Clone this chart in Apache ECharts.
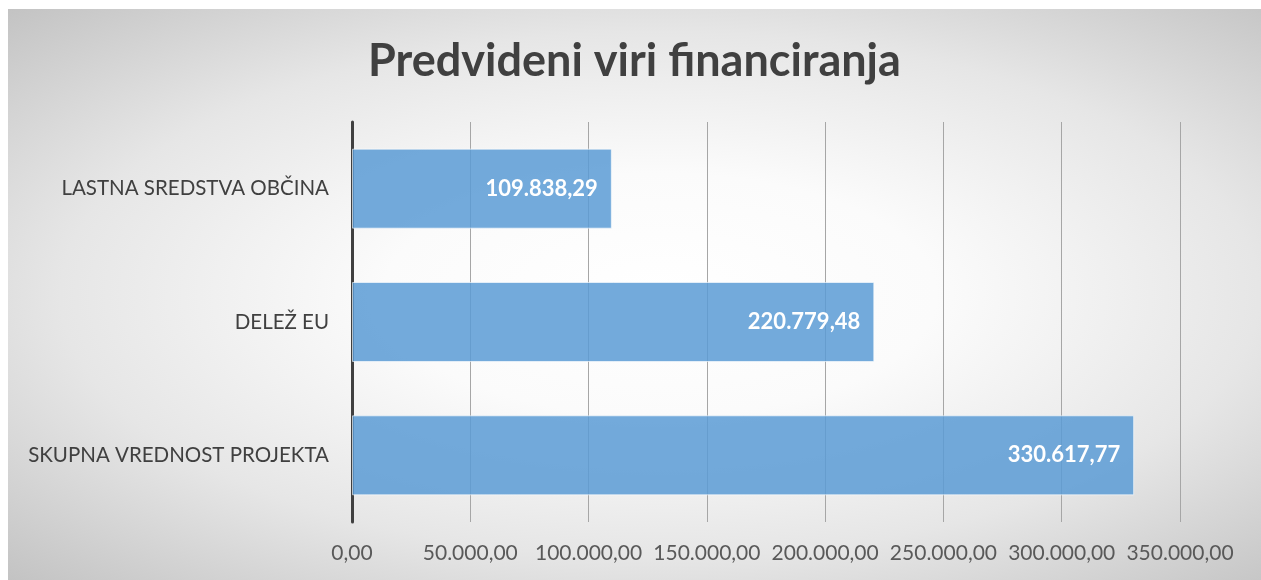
<!DOCTYPE html>
<html>
<head>
<meta charset="utf-8">
<script src="https://cdn.jsdelivr.net/npm/echarts@6/dist/echarts.min.js"></script>
<style>
  html, body { margin: 0; padding: 0; background: #fff; }
  .chart {
    position: absolute; left: 8px; top: 9px; width: 1253px; height: 571px;
    background: radial-gradient(ellipse farthest-corner at 52% 50%, #ffffff 0%, #fbfbfb 30%, #e6e6e6 65%, #c3c3c3 100%);
  }
</style>
</head>
<body>
<div class="chart"></div>
<script>
// podatki
var categories = ["LASTNA SREDSTVA OBČINA", "DELEŽ EU", "SKUPNA VREDNOST PROJEKTA"];
var values = [109838.29, 220779.48, 330617.77];
var axisMax = 350000;
var axisStep = 50000;

// slovenski zapis stevil: 109.838,29
function fmt(v) {
    var parts = Number(v).toFixed(2).split(".");
    var whole = parts[0].replace(/\B(?=(\d{3})+(?!\d))/g, ".");
    return whole + "," + parts[1];
}

var myChart = echarts.init(document.querySelector(".chart"));
var option = {
    backgroundColor: "transparent",
    animation: false,
    title: {
        text: "Predvideni viri financiranja",
        left: "center",
        top: 25,
        textStyle: {
            fontFamily: "Lato",
            fontSize: 45,
            fontWeight: "bold",
            color: "#404040"
        }
    },
    grid: { left: 344, right: 81, top: 113, bottom: 58, containLabel: false },
    xAxis: {
        type: "value",
        min: 0,
        max: axisMax,
        interval: axisStep,
        axisLine: { show: false },
        axisTick: { show: false },
        axisLabel: {
            formatter: fmt,
            margin: 21,
            fontFamily: "Lato",
            fontSize: 21,
            color: "#595959"
        },
        splitLine: { lineStyle: { color: "#a6a6a6", width: 1 } }
    },
    yAxis: {
        type: "category",
        inverse: true,
        data: categories,
        axisLine: { lineStyle: { color: "#404040", width: 3 } },
        axisTick: { show: false },
        axisLabel: {
            margin: 23,
            fontFamily: "Lato",
            fontSize: 20.5,
            color: "#404040"
        }
    },
    series: [{
        type: "bar",
        data: values,
        barWidth: "60%",
        itemStyle: {
            color: "rgba(91,155,213,0.85)",
            borderColor: "rgba(255,255,255,0.6)",
            borderWidth: 1
        },
        label: {
            show: true,
            position: "insideRight",
            distance: 14,
            formatter: function (p) { return fmt(p.value); },
            fontFamily: "Lato",
            fontSize: 22,
            fontWeight: "bold",
            color: "#ffffff"
        }
    }]
};
myChart.setOption(option);
</script>
</body>
</html>
